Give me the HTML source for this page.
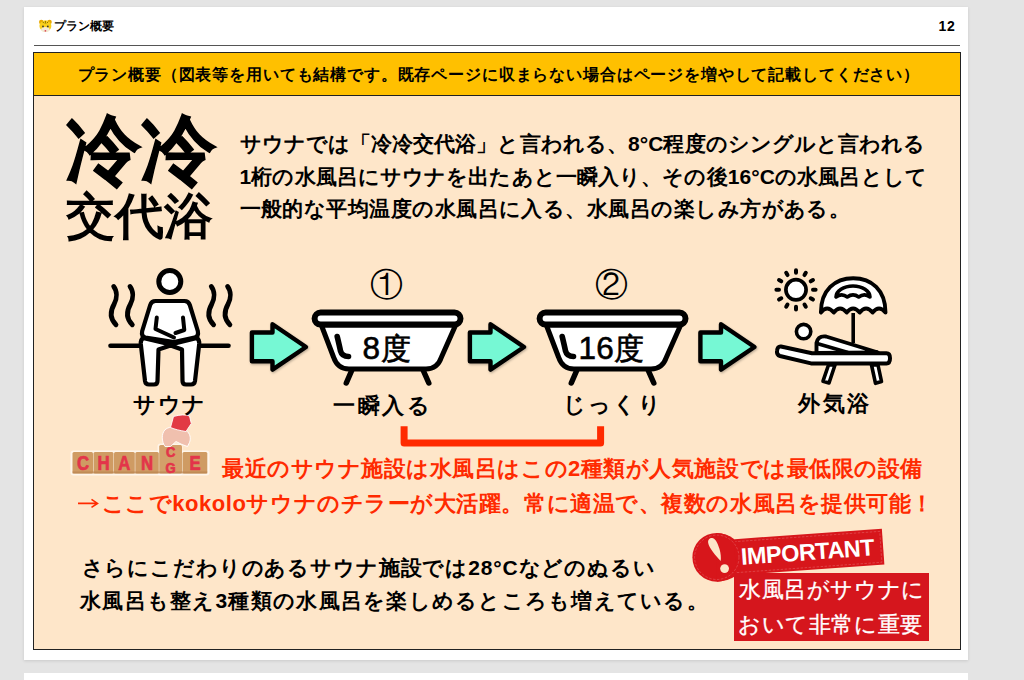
<!DOCTYPE html>
<html lang="ja">
<head>
<meta charset="utf-8">
<style>
html,body{margin:0;padding:0;}
body{width:1024px;height:680px;overflow:hidden;background:#e4e4e4;position:relative;font-family:"Liberation Sans",sans-serif;color:#000;}
.card{position:absolute;left:24px;top:7px;width:944px;height:653px;background:#fff;box-shadow:0 1px 3px rgba(0,0,0,0.12);}
.card2{position:absolute;left:24px;top:673px;width:944px;height:40px;background:#fff;}
.t{position:absolute;white-space:nowrap;font-weight:bold;line-height:1;}
.hr{position:absolute;left:34px;top:45px;width:926px;height:1.3px;background:#555;}
.box{position:absolute;left:33px;top:52px;width:926px;height:596px;border:1.5px solid #222;background:#fee6c9;}
.hdr{position:absolute;left:33px;top:52px;width:926px;height:42px;border:1.5px solid #222;background:#ffc000;}
svg{position:absolute;left:0;top:0;}
</style>
</head>
<body>
<div class="card"></div>
<div class="card2"></div>
<div class="hr"></div>
<div class="box"></div>
<div class="hdr"></div>
<svg width="1024" height="680" viewBox="0 0 1024 680" id="icons">
<defs>
<filter id="sh" x="-20%" y="-20%" width="140%" height="140%"><feDropShadow dx="0.8" dy="1.2" stdDeviation="1.2" flood-color="#000" flood-opacity="0.28"/></filter>
<g id="arrow" filter="url(#sh)"><path d="M251.9,332.5 H272.5 V324.2 L306,347 L272.5,369.6 V361.3 H251.9 Z" fill="#76f8d4" stroke="#000" stroke-width="4.4" stroke-linejoin="round"/></g>
<g id="tub">
<path d="M321.3,325 L333.5,357 Q337.5,369 349,369 L426,369 Q437.5,369 441.5,357 L455.7,325 Z" fill="#fff" stroke="#000" stroke-width="5" stroke-linejoin="round"/>
<rect x="314.6" y="312.5" width="145.9" height="12.1" rx="6" fill="#fff" stroke="#000" stroke-width="6"/>
<path d="M351.5,371 L346.3,383 M423.5,371 L428.8,383" stroke="#000" stroke-width="5.5" stroke-linecap="round"/>
<path d="M337.2,336.5 Q339.5,346 340.5,351 Q342,356.5 348.5,356.5" fill="none" stroke="#000" stroke-width="5.6" stroke-linecap="round"/>
</g>
<path id="wave" d="M0,0 C3.5,4.5 3.5,11.5 0.5,17.5 C-3.5,24.5 -4,32 2.3,38.3" fill="none" stroke="#000" stroke-width="4.8" stroke-linecap="round"/>
</defs>
<!-- sauna person -->
<use href="#wave" x="113.7" y="286.5"/>
<use href="#wave" x="130" y="286.5"/>
<use href="#wave" x="211.3" y="286.5"/>
<use href="#wave" x="227.6" y="286.5"/>
<line x1="110.5" y1="345.8" x2="228.5" y2="345.8" stroke="#000" stroke-width="4.6" stroke-linecap="round"/>
<circle cx="169.8" cy="281.5" r="11" fill="#fff" stroke="#000" stroke-width="5"/>
<path d="M143,338 L170.6,344.5 L197,338 Q199.5,340 199.2,344 L195,381 Q194.5,384.5 191,384.5 L186,384.5 Q182.5,384.5 182.5,381 L182,349.5 L170.6,345.5 L158.5,349.5 L157.5,381 Q157.5,384.5 154,384.5 L149,384.5 Q145.5,384.5 145,381 L140.8,344 Q140.5,340 143,338 Z" fill="#fff" stroke="#000" stroke-width="4.2" stroke-linejoin="round"/>
<path d="M155.5,301 L184.5,301 Q188.5,301 189.8,305 L197.8,331 Q199,336.5 194.5,337.5 L174,342 L145.5,337.5 Q141,336.5 142.2,331 L150.2,305 Q151.5,301 155.5,301 Z" fill="#fff" stroke="#000" stroke-width="4.2" stroke-linejoin="round"/>
<path d="M183,317.5 L184.3,330 L175.5,333" fill="none" stroke="#000" stroke-width="4" stroke-linecap="round" stroke-linejoin="round"/>
<path d="M156.8,317.5 L155.5,329 L174,337.5" fill="none" stroke="#000" stroke-width="4" stroke-linecap="round" stroke-linejoin="round"/>
<!-- arrows -->
<use href="#arrow"/>
<use href="#arrow" x="218"/>
<use href="#arrow" x="448.5"/>
<!-- tubs -->
<use href="#tub"/>
<use href="#tub" x="225"/>
<text x="362.5" y="359" font-size="29.5" fill="#000" stroke="#000" stroke-width="0.6"><tspan font-size="31.5" letter-spacing="0.6">8</tspan><tspan>度</tspan></text>
<text x="578.5" y="359" font-size="29.5" fill="#000" stroke="#000" stroke-width="0.6"><tspan font-size="31.5" letter-spacing="0.3">16</tspan><tspan>度</tspan></text>
<!-- outdoor -->
<circle cx="796" cy="289.8" r="10.1" fill="#fff" stroke="#000" stroke-width="3.7"/>
<path d="M796.00,272.80 L796.00,270.20 M804.50,275.08 L805.80,272.83 M810.72,281.30 L812.97,280.00 M813.00,289.80 L815.60,289.80 M810.72,298.30 L812.97,299.60 M804.50,304.52 L805.80,306.77 M796.00,306.80 L796.00,309.40 M787.50,304.52 L786.20,306.77 M781.28,298.30 L779.03,299.60 M779.00,289.80 L776.40,289.80 M781.28,281.30 L779.03,280.00 M787.50,275.08 L786.20,272.83" stroke="#000" stroke-width="4" stroke-linecap="round"/>
<path d="M820.9,312.5 C820.9,290 835,278.3 853.2,278.3 C871.4,278.3 885.5,290 885.5,312.5 Q879,304.5 872.6,312.5 Q866,304.5 859.7,312.5 Q853,304.5 846.7,312.5 Q840,304.5 833.8,312.5 Q827,304.5 820.9,312.5 Z" fill="#fff" stroke="#000" stroke-width="3.9" stroke-linejoin="round"/>
<path d="M836,297 A17,11 0 0 1 870,297 Q864.3,292.8 858.7,297 Q853,292.8 847.3,297 Q841.7,292.8 836,297 Z" fill="#fff" stroke="#000" stroke-width="3.6" stroke-linejoin="round"/>
<line x1="853.2" y1="313" x2="853.2" y2="343" stroke="#000" stroke-width="3.6"/>
<circle cx="803.6" cy="331.6" r="7.2" fill="#fff" stroke="#000" stroke-width="3.6"/>
<path d="M828.5,365 L835,365 L829,383 L823,381.2 Z M871.5,365 L878,365 L881.5,381.5 L875.5,383.3 Z" fill="#fff" stroke="#000" stroke-width="3.6" stroke-linejoin="round"/>
<path d="M816.5,353 L816.5,343 Q818,335.5 826,336.5 L878,352.5 Z" fill="#fff" stroke="#000" stroke-width="3.9" stroke-linejoin="round"/>
<path d="M817,343.5 L848,352.5" stroke="#000" stroke-width="3.8"/>
<path d="M781,346.5 L812,353.3 L886.5,353.3 Q890,353.3 890,358.3 Q890,363.4 886.5,363.4 L811,363.4 L780,356 Q776.5,355 777,351 Q777.5,346 781,346.5 Z" fill="#fff" stroke="#000" stroke-width="4" stroke-linejoin="round"/>
<!-- important badge -->
<g>
<g transform="rotate(-4.07 808 552)">
<rect x="732.6" y="534" width="150.7" height="36" fill="#d7161b"/>
<rect x="735" y="536.5" width="146" height="31" fill="none" stroke="#fff" stroke-opacity="0.3" stroke-width="0.6" stroke-dasharray="2.5 1.5"/>
<text x="807.5" y="560" text-anchor="middle" font-size="23.5" font-weight="bold" fill="#fff" letter-spacing="-0.5">IMPORTANT</text>
</g>
<circle cx="716.8" cy="557.3" r="24.4" fill="#d7161b"/>
<path d="M716,532.9 Q727,533.2 734,539 L736,575.8 Q728,581.2 717,581.7 Z" fill="#d7161b"/>
<circle cx="716.8" cy="557.3" r="22.2" fill="none" stroke="#fff" stroke-opacity="0.3" stroke-width="0.6" stroke-dasharray="2.5 1.5"/>
<path d="M720.7,561 C716,556 709,548 708.2,543 C707.6,539 710.5,537.5 713,538.2 C716,539.2 718,544 719.5,549 C720.8,553 721.2,558 720.7,561 Z" fill="#fde6c8"/>
<circle cx="724.6" cy="568.6" r="4.4" fill="#fde6c8"/>
</g>
<!-- change blocks -->
<g>
<rect x="70.5" y="450.5" width="139" height="25" rx="3" fill="#fff" opacity="0.6"/>
<rect x="157.5" y="443.5" width="25" height="32" rx="3" fill="#fff" opacity="0.6"/>
<g fill="#cf9b63">
<rect x="72.5" y="452" width="20.5" height="21.5" rx="1.5"/>
<rect x="93.5" y="452" width="20" height="21.5" rx="1.5"/>
<rect x="114" y="452" width="20.8" height="21.5" rx="1.5"/>
<rect x="135.3" y="452" width="23.5" height="21.5" rx="1.5"/>
<rect x="182.5" y="452" width="24.8" height="21.5" rx="1.5"/>
<rect x="159.2" y="445" width="22.8" height="28.5" rx="1.5" fill="#d3a06a"/>
</g>
<g fill="#b98450" opacity="0.7">
<rect x="72.5" y="471.5" width="134.8" height="2"/>
</g>
<g fill="#e3354a" stroke="#e3354a" stroke-width="0.7" font-weight="bold" font-size="19.5" text-anchor="middle">
<text transform="translate(83,470.3) scale(0.86,1)">C</text>
<text transform="translate(103.5,470.3) scale(0.86,1)">H</text>
<text transform="translate(124.4,470.3) scale(0.86,1)">A</text>
<text transform="translate(147,470.3) scale(0.86,1)">N</text>
<text transform="translate(195,470.3) scale(0.86,1)">E</text>
<text transform="translate(170.6,457.2) scale(0.9,1)" font-size="14.5">C</text>
<text transform="translate(170.6,472.8) scale(0.9,1)" font-size="14.5">G</text>
</g>
<path d="M165,446.5 C161.5,441.5 161.3,434 164.8,430 C168,426.8 174,426.3 178.5,427.8 L186,430.5 C190.2,433 191.2,438.5 189.5,442.5 L187.5,446.5 L182,444.5 L176,441.5 L170.5,446.5 Z" fill="#f0c0ae" stroke="#fff" stroke-width="0.9"/>
<path d="M170.5,427.5 L173.5,416.5 C180,414.5 186,414.5 189.5,416 L191.3,423.5 L186,431.5 C180,430.5 175,429.5 170.5,427.5 Z" fill="#e23a45" stroke="#fff" stroke-width="0.9"/>
</g>
<!-- tiger emoji -->
<g>
<circle cx="41.3" cy="22" r="2.3" fill="#e9a800"/>
<circle cx="49.5" cy="22" r="2.3" fill="#e9a800"/>
<ellipse cx="45.4" cy="26" rx="6" ry="5.8" fill="#f9cf1a"/>
<ellipse cx="45.4" cy="29.6" rx="4.2" ry="2.5" fill="#f3ead6"/>
<circle cx="43" cy="26.4" r="0.9" fill="#333"/>
<circle cx="47.8" cy="26.4" r="0.9" fill="#333"/>
<path d="M45.4,21 V23.5 M42.5,21.7 L44,23.2 M48.3,21.7 L46.8,23.2" stroke="#6b5a00" stroke-width="0.8"/>
<circle cx="45.4" cy="30.8" r="0.9" fill="#d84a5a"/>
</g>
<path d="M78,503.4 H97 M91.5,499.3 L97.5,503.4 L91.5,507.3" fill="none" stroke="#ff2a00" stroke-width="1.6" stroke-linejoin="miter"/>
<!-- bracket -->
<path d="M404.1,426.3 V443 H600.6 V426.3" fill="none" stroke="#ff2a00" stroke-width="7" stroke-linejoin="round"/>
</svg>

<!-- top title -->
<div class="t" id="title" style="left: 54.20px; top: 20.30px; font-size: 12px; letter-spacing: -0.17px;">プラン概要</div>
<div class="t" id="pnum" style="left: 938.40px; top: 18.50px; font-size: 14px; letter-spacing: 0.70px;">12</div>
<div class="t" id="hdrtext" style="left: 77.50px; top: 66.65px; font-size: 16px; letter-spacing: 0.85px;">プラン概要（図表等を用いても結構です。既存ページに収まらない場合はページを増やして記載してください）</div>

<!-- big title -->
<div class="t" id="big1" style="left:65.5px;top:113px;font-size:75px;-webkit-text-stroke:1.2px #000;">冷冷</div>
<div class="t" id="big2" style="left:66px;top:192px;font-size:49px;">交代浴</div>

<div class="t" id="p1" style="left: 239.50px; top: 132.6px; font-size: 21px; letter-spacing: 0.08px;">サウナでは「冷冷交代浴」と言われる、8°C程度のシングルと言われる</div>
<div class="t" id="p2" style="left: 239.50px; top: 165.6px; font-size: 21px; letter-spacing: 0.11px;">1桁の水風呂にサウナを出たあと一瞬入り、その後16°Cの水風呂として</div>
<div class="t" id="p3" style="left: 239.50px; top: 198.2px; font-size: 21px; letter-spacing: 0.46px;">一般的な平均温度の水風呂に入る、水風呂の楽しみ方がある。</div>

<!-- labels -->
<div class="t" id="l1" style="left: 133px; top: 394.10px; font-size: 22px; letter-spacing: 1.50px;">サウナ</div>
<div class="t" id="l2" style="left: 333.20px; top: 395.40px; font-size: 22px; letter-spacing: 2.60px;">一瞬入る</div>
<div class="t" id="l3" style="left: 562.80px; top: 394.40px; font-size: 22px; letter-spacing: 2.23px;">じっくり</div>
<div class="t" id="l4" style="left: 797.90px; top: 393.40px; font-size: 22px; letter-spacing: 2.65px;">外気浴</div>

<div class="t" id="c1" style="left:370px;top:268px;font-size:33px;font-weight:normal;">①</div>
<div class="t" id="c2" style="left:595px;top:268px;font-size:33px;font-weight:normal;">②</div>

<!-- orange text -->
<div class="t" id="o1" style="left: 222.10px; top: 458.30px; font-size: 22px; color: rgb(255, 42, 0); letter-spacing: 0.53px;">最近のサウナ施設は水風呂はこの2種類が人気施設では最低限の設備</div>
<div class="t" id="o2" style="left: 101.60px; top: 492.8px; font-size: 22px; color: rgb(255, 42, 0); letter-spacing: 0.55px;">ここでkokoloサウナのチラーが大活躍。常に適温で、複数の水風呂を提供可能！</div>

<!-- bottom -->
<div class="t" id="b1" style="left: 81.60px; top: 556.80px; font-size: 21px; letter-spacing: 0.86px;">さらにこだわりのあるサウナ施設では28°Cなどのぬるい</div>
<div class="t" id="b2" style="left: 80px; top: 590.2px; font-size: 21px; letter-spacing: 1.26px;">水風呂も整え3種類の水風呂を楽しめるところも増えている。</div>

<!-- important red box -->
<div style="position:absolute;left:734px;top:573px;width:195px;height:67.5px;background:#d5161d;"></div>
<div class="t" id="r1" style="left: 739.10px; top: 578.8px; font-size: 22px; color: rgb(255, 255, 255); font-weight: normal; letter-spacing: 0.57px;-webkit-text-stroke:0.35px #fff;">水風呂がサウナに</div>
<div class="t" id="r2" style="left: 738.10px; top: 614.45px; font-size: 22px; color: rgb(255, 255, 255); font-weight: normal; letter-spacing: 0.57px;-webkit-text-stroke:0.35px #fff;">おいて非常に重要</div>

</body>
</html>
